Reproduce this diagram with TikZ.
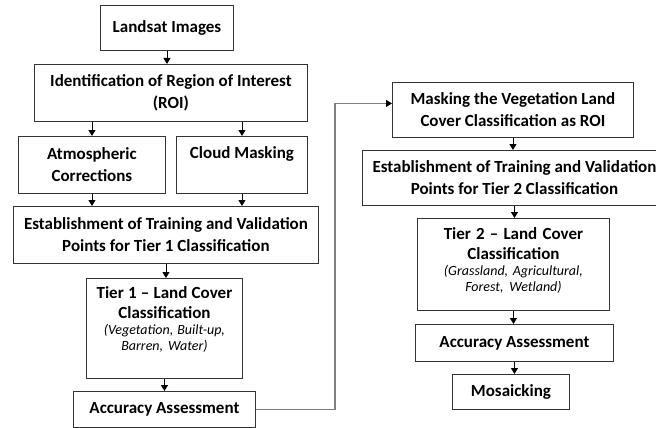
\documentclass[tikz,border=0pt]{standalone}
\usepackage{fontspec}
\setmainfont{Carlito}
\usetikzlibrary{arrows.meta}

\begin{document}
\begin{tikzpicture}[x=1pt,y=-1pt,
  blk/.style={draw=black!80,line width=0.9pt,fill=white,align=center,inner sep=3pt,anchor=north west,
    font=\bfseries\fontsize{17}{22}\selectfont},
  tier/.style={blk,font=\bfseries\fontsize{17}{20}\selectfont},
  arr/.style={line width=0.9pt,-{Triangle[length=6pt,width=7pt]}},
  link/.style={draw=black!50,line width=1.2pt,-{Triangle[length=6pt,width=7pt,color=black]}}]
\useasboundingbox (0,0) rectangle (656,428);
\newcommand{\subcls}[1]{\par{\mdseries\itshape\fontsize{14}{16}\selectfont #1\par}}
% Tier 1 chain
\node[blk,minimum width=133pt,minimum height=45pt] (ls) at (100,5) {Landsat Images};
\node[blk,minimum width=273pt,minimum height=57pt] (roi) at (34,64) {Identification of Region of Interest\\(ROI)};
\node[blk,minimum width=147pt,minimum height=57pt] (atm) at (18,136) {Atmospheric\\Corrections};
\node[blk,minimum width=131pt,text height=19pt,text depth=32pt] (cld) at (176,136) {Cloud Masking};
\node[blk,minimum width=305pt,minimum height=57pt] (est1) at (13,206) {Establishment of Training and Validation\\Points for Tier 1 Classification};
\node[tier,text width=150pt,text height=17pt,text depth=77pt] (t1) at (86,278)
  {\spaceskip=0pt\xspaceskip=0pt Tier 1 -- Land Cover\\Classification\subcls{(Vegetation, Built-up,\\Barren, Water)}};
\node[blk,minimum width=182pt,minimum height=36pt] (aa1) at (73,391) {Accuracy Assessment};
% Tier 2 chain
\node[blk,minimum width=241pt,minimum height=55pt] (mask) at (392,82) {Masking the Vegetation Land\\Cover Classification as ROI};
\node[blk,minimum width=304pt,minimum height=55pt] (est2) at (362,150) {Establishment of Training and Validation\\Points for Tier 2 Classification};
\node[tier,text width=186pt,text height=18pt,text depth=68pt] (t2) at (417,218)
  {\spaceskip=0pt\xspaceskip=0pt Tier 2 -- Land Cover\\Classification\subcls{(Grassland, Agricultural,\\Forest, Wetland)}};
\node[blk,minimum width=198pt,minimum height=37pt] (aa2) at (415,324) {Accuracy Assessment};
\node[blk,minimum width=117pt,minimum height=35pt] (mos) at (452,374) {Mosaicking};
\coordinate (bend) at (335,0);

\draw[arr] (ls.south) -- (ls.south |- roi.north);
\draw[arr] (atm.north |- roi.south) -- (atm.north);
\draw[arr] (cld.north |- roi.south) -- (cld.north);
\draw[arr] (atm.south) -- (atm.south |- est1.north);
\draw[arr] (cld.south) -- (cld.south |- est1.north);
\draw[arr] (est1.south) -- (est1.south |- t1.north);
\draw[arr] (t1.south) -- (t1.south |- aa1.north);
\draw[link] (aa1.east) -- (aa1.east -| bend) |- ([yshift=6.5pt]mask.west);
\draw[arr] (mask.south) -- (mask.south |- est2.north);
\draw[arr] (est2.south) -- (est2.south |- t2.north);
\draw[arr] (t2.south) -- (t2.south |- aa2.north);
\draw[arr] (aa2.south) -- (aa2.south |- mos.north);
\end{tikzpicture}
\end{document}
